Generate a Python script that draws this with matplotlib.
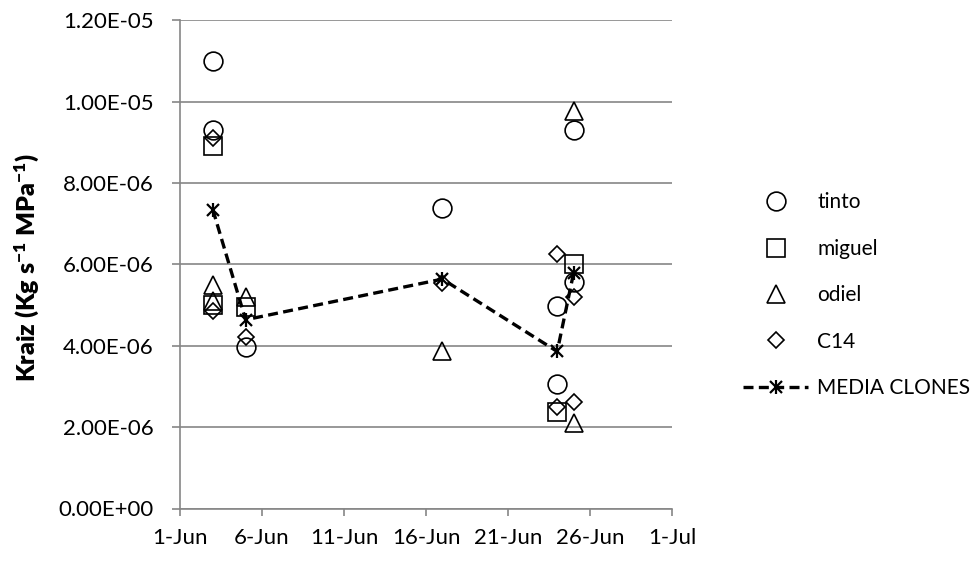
import datetime as dt
import matplotlib
matplotlib.use("Agg")
import matplotlib.pyplot as plt
import matplotlib.dates as mdates
from matplotlib.legend_handler import HandlerTuple

plt.rcParams['font.family'] = ['Lato', 'DejaVu Sans']
plt.rcParams['font.size'] = 16
plt.rcParams['mathtext.default'] = 'regular'

def d(day):
    return dt.datetime(2012, 6, day)

# datos (Kraiz, Kg s-1 MPa-1)
tinto_dias = [3, 3, 5, 17, 24, 24, 25, 25]
tinto_val = [11.0e-6, 9.3e-6, 3.97e-6, 7.39e-6, 4.99e-6, 3.06e-6, 9.3e-6, 5.56e-6]

miguel_dias = [3, 3, 5, 24, 25]
miguel_val = [8.9e-6, 5.0e-6, 4.96e-6, 2.38e-6, 6.0e-6]

odiel_dias = [3, 3, 5, 17, 25, 25]
odiel_val = [5.5e-6, 5.1e-6, 5.2e-6, 3.86e-6, 9.78e-6, 2.10e-6]

c14_dias = [3, 3, 5, 17, 24, 24, 25, 25]
c14_val = [9.1e-6, 4.85e-6, 4.22e-6, 5.54e-6, 6.26e-6, 2.5e-6, 5.21e-6, 2.61e-6]

media_dias = [3, 5, 17, 24, 25]
media_val = [7.35e-6, 4.64e-6, 5.64e-6, 3.86e-6, 5.79e-6]

fig = plt.figure(figsize=(9.8, 5.61), dpi=100)
ax = fig.add_axes([180/980, 1-508.5/561, (672-180)/980, (508.5-20.4)/561])

mk = dict(linestyle='none', markerfacecolor='none', markeredgecolor='black', markeredgewidth=1.2)
h1, = ax.plot([d(x) for x in tinto_dias], tinto_val, marker='o', markersize=13.5, label='tinto', **mk)
h2, = ax.plot([d(x) for x in miguel_dias], miguel_val, marker='s', markersize=13, label='miguel', **mk)
h3, = ax.plot([d(x) for x in odiel_dias], odiel_val, marker='^', markersize=13.5, label='odiel', **mk)
h4, = ax.plot([d(x) for x in c14_dias], c14_val, marker='D', markersize=8.5, label='C14', **mk)

fechas_media = [d(x) for x in media_dias]
h5a, = ax.plot(fechas_media, media_val, color='black', linestyle=(0, (3, 1.6)), linewidth=2.4,
               marker='x', markersize=8.5, markeredgewidth=1.6)
h5b, = ax.plot(fechas_media, media_val, color='black', linestyle='none',
               marker='|', markersize=10, markeredgewidth=1.6)

ax.set_xlim(d(1), dt.datetime(2012, 7, 1))
ax.set_ylim(0, 1.2e-5)
ax.set_yticks([i * 2e-6 for i in range(7)])
ax.yaxis.set_major_formatter(plt.FuncFormatter(lambda v, p: '%.2E' % v))
ax.xaxis.set_major_locator(mdates.DayLocator(bymonthday=[1, 6, 11, 16, 21, 26]))
ax.xaxis.set_major_formatter(mdates.DateFormatter('%-d-%b'))

ax.grid(axis='y', color='#868686', linewidth=1.2)
ax.set_axisbelow(True)
for s in ['top', 'right']:
    ax.spines[s].set_visible(False)
for s in ['left', 'bottom']:
    ax.spines[s].set_color('#868686')
    ax.spines[s].set_linewidth(1.2)
ax.tick_params(axis='both', colors='#868686', width=1.2, labelcolor='black', labelsize=16)
ax.tick_params(axis='x', length=5, pad=9)
ax.tick_params(axis='y', length=6, pad=13)

fig.text(27/980, 1-268/561, 'Kraiz (Kg s$^{-1}$ MPa$^{-1}$)', rotation=90, ha='center', va='center',
         fontweight='heavy', fontsize=18)

fig.legend([h1, h2, h3, h4, (h5a, h5b)], ['tinto', 'miguel', 'odiel', 'C14', 'MEDIA CLONES'],
           handler_map={tuple: HandlerTuple(ndivide=1, pad=0)},
           loc='upper left', bbox_to_anchor=(735/980, 1-184/561), frameon=False,
           handlelength=3.1, handletextpad=0.45, labelspacing=1.27, borderaxespad=0, fontsize=15)

fig.savefig('out.png', dpi=100)
